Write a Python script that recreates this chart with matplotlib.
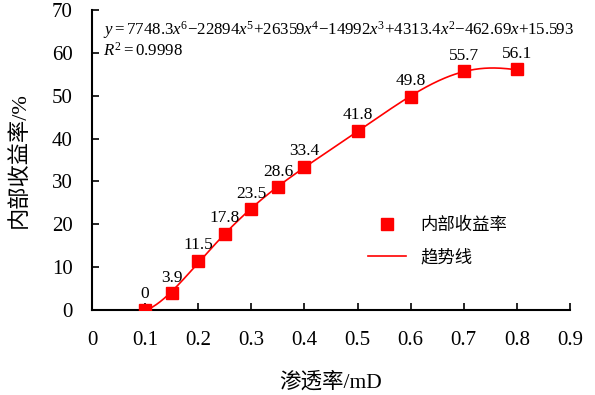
import numpy as np
import matplotlib.pyplot as plt

plt.rcParams['font.family'] = ['Liberation Serif', 'Noto Sans CJK SC']
plt.rcParams['mathtext.fontset'] = 'custom'
plt.rcParams['mathtext.rm'] = 'Liberation Serif'
plt.rcParams['mathtext.it'] = 'Liberation Serif:italic'

perm = [0.1, 0.15, 0.2, 0.25, 0.3, 0.35, 0.4, 0.5, 0.6, 0.7, 0.8]
irr = [0, 3.9, 11.5, 17.8, 23.5, 28.6, 33.4, 41.8, 49.8, 55.7, 56.1]
coef = [7748.3, -22894, 26359, -14992, 4313.4, -462.69, 15.593]

fig = plt.figure(figsize=(5.95, 3.95), dpi=100)
ax = fig.add_axes([0.1546, 0.215, 0.8034, 0.76])

xs = np.linspace(min(perm), max(perm), 300)
ax.plot(xs, np.polyval(coef, xs), color='#ff0000', lw=1.2, label='趋势线', zorder=2)
ax.plot(perm, irr, 's', color='#ff0000', ms=8, label='内部收益率', zorder=3)

for x, y in zip(perm, irr):
    ax.annotate(f'{y:g}', (x, y), xytext=(0, 5.5), textcoords='offset points',
                ha='center', va='bottom', fontsize=12.5)

ax.set_xlim(0, 0.9)
ax.set_ylim(0, 70)
ax.set_xticks(np.arange(0, 0.91, 0.1))
ax.set_xticklabels(['0'] + [f'{v:.1f}' for v in np.arange(0.1, 0.91, 0.1)])
ax.set_yticks(range(0, 71, 10))
ax.tick_params(direction='in', length=5, width=1.2, labelsize=15)
ax.tick_params(axis='y', pad=14)
ax.tick_params(axis='x', pad=15)
for s in ['top', 'right']:
    ax.spines[s].set_visible(False)
for s in ['left', 'bottom']:
    ax.spines[s].set_linewidth(1.5)

ax.set_xlabel('渗透率/mD', fontsize=15.5, labelpad=16)
ax.set_ylabel('内部收益率/%', fontsize=16, labelpad=16)

eq = (r'$y{=}7748.3x^{6}{-}22894x^{5}{+}26359x^{4}{-}14992x^{3}'
      r'{+}4313.4x^{2}{-}462.69x{+}15.593$')
ax.text(0.023, 64.2, eq, transform=ax.get_yaxis_transform(), fontsize=12.2, va='baseline')
ax.text(0.023, 59.4, r'$R^{2}{=}0.9998$', transform=ax.get_yaxis_transform(),
        fontsize=12.2, va='baseline')

h, l = ax.get_legend_handles_labels()
ax.legend([h[1], h[0]], [l[1], l[0]], loc='upper left', bbox_to_anchor=(0.545, 0.36),
          frameon=False, fontsize=12.5, handlelength=2.2, labelspacing=0.9)

fig.savefig('out.png', dpi=100)
